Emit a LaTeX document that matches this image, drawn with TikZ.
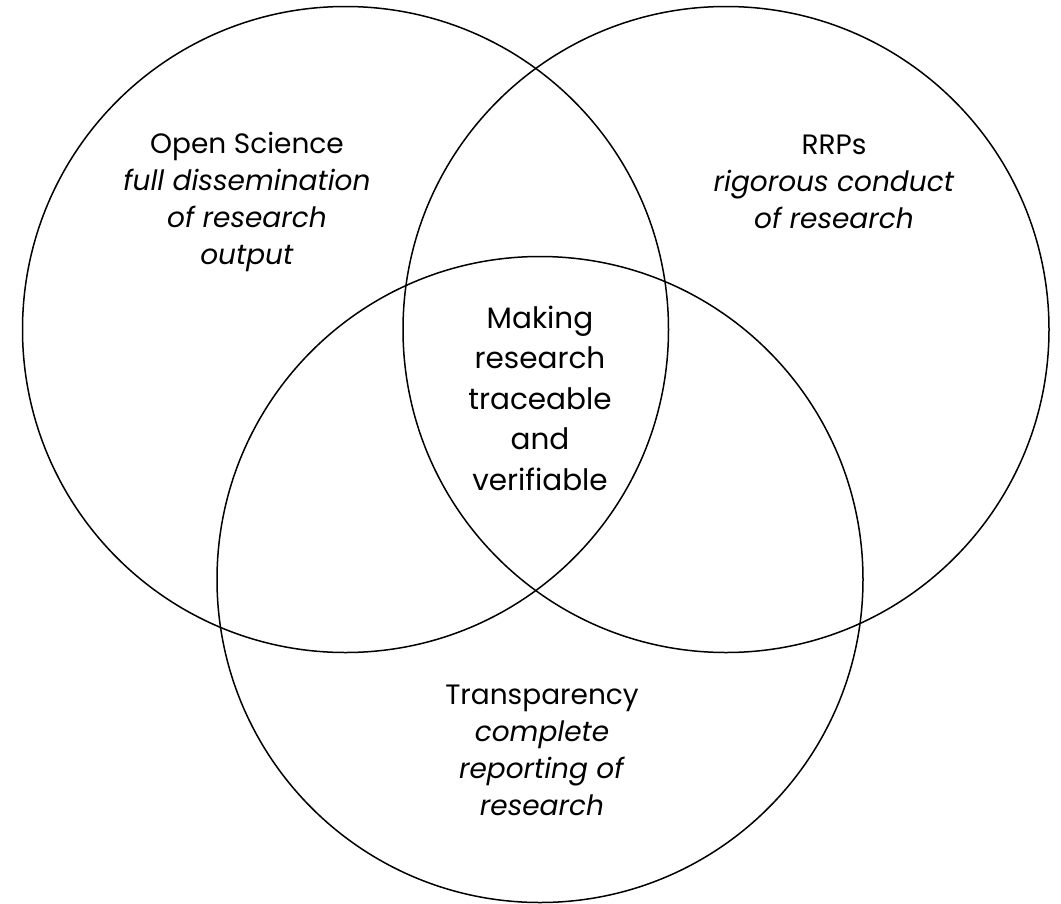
\documentclass[tikz,border=0pt]{standalone}
\usepackage{fontspec}
\setmainfont{Poppins}
\usetikzlibrary{positioning}

\begin{document}
\begin{tikzpicture}[x=1pt, y=-1pt,
		vennset/.style={circle, draw, line width=1.5pt, minimum size=646pt, inner sep=0pt},
		settext/.style={align=center, anchor=base, inner sep=0pt, font=\fontsize{28}{37}\selectfont},
		midtext/.style={align=center, anchor=base, inner sep=0pt, font=\fontsize{29.5}{40.5}\selectfont}]
		
		\useasboundingbox (0,0) rectangle (1061,903);
		
		%open science
		\node[vennset] (os) at (345.5,329.5) {};
		%rrps
		\node[vennset] (rrp) at (726,329.5) {};
		%transparency
		\node[vennset] (tr) at (540,579.5) {};
		
		
		\node[settext] (ostext) at (247,264) {Open Science\\\textit{full dissemination}\\\textit{of research}\\\textit{output}};
		\node[settext] (rrptext) at (834,228) {RRPs\\\textit{rigorous conduct}\\\textit{of research}};
		\node[settext] (trtext) at (542,815) {Transparency\\\textit{complete}\\\textit{reporting of}\\\textit{research}};
		\node[midtext] (midtext) at (540,490) {Making\\research\\traceable\\and\\verifiable};
		
		
		\end{tikzpicture}
\end{document}
